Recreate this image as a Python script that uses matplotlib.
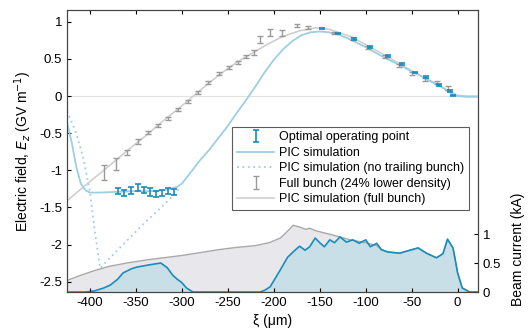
import numpy as np
import matplotlib
matplotlib.use("Agg")
import matplotlib.pyplot as plt

plt.rcParams["font.family"] = ["Liberation Sans", "DejaVu Sans"]
plt.rcParams["axes.unicode_minus"] = False

# PIC simulation (solid light blue)
xi_pic = [-425, -420, -415, -410, -405, -400, -390, -370, -350, -330, -315, -305,
          -300, -290, -280, -270, -260, -250, -240, -230, -220, -210, -200, -190,
          -180, -170, -160, -150, -140, -130, -120, -110, -100, -90, -80, -70,
          -60, -50, -40, -30, -20, -10, -5, 0, 10, 22]
e_pic = [-0.36, -0.62, -0.95, -1.18, -1.27, -1.3, -1.3, -1.29, -1.28, -1.28, -1.26, -1.22,
         -1.18, -1.02, -0.86, -0.72, -0.56, -0.4, -0.22, -0.05, 0.13, 0.32, 0.49, 0.63,
         0.74, 0.82, 0.86, 0.87, 0.86, 0.83, 0.78, 0.72, 0.66, 0.59, 0.52, 0.46,
         0.4, 0.33, 0.27, 0.2, 0.14, 0.06, 0.02, 0.0, -0.01, -0.01]

# PIC simulation, no trailing bunch (dotted)
xi_nt = [-425, -415, -407, -400, -395, -389, -380, -360, -340, -320, -302]
e_nt = [-0.2, -0.5, -0.85, -1.3, -1.8, -2.32, -2.2, -1.95, -1.7, -1.47, -1.24]

# PIC simulation, full bunch (light gray)
xi_full = [-425, -400, -385, -360, -340, -320, -300, -280, -260, -240, -226, -208,
           -191, -172, -154, -140, -130, -114, -98, -79, -64, -50, -35, -22, -11, 0, 10, 22]
e_full = [-1.41, -1.15, -1.0, -0.74, -0.54, -0.33, -0.13, 0.08, 0.28, 0.46, 0.56, 0.69,
          0.8, 0.88, 0.92, 0.9, 0.86, 0.79, 0.68, 0.55, 0.44, 0.34, 0.24, 0.16, 0.08, 0.01, 0.0, 0.0]

# Optimal operating point (blue error bars)
xi_opt = [-370, -363, -355, -348, -341, -335, -328, -322, -315, -309,
          -148, -130, -113, -95, -76, -60, -46, -34, -20, -8, -5]
e_opt = [-1.28, -1.30, -1.27, -1.23, -1.26, -1.29, -1.32, -1.31, -1.28, -1.29,
         0.91, 0.84, 0.77, 0.66, 0.54, 0.43, 0.32, 0.26, 0.15, 0.07, 0.01]
err_opt = [0.04, 0.04, 0.05, 0.05, 0.04, 0.05, 0.04, 0.04, 0.04, 0.04,
           0.01, 0.01, 0.01, 0.01, 0.01, 0.01, 0.01, 0.01, 0.01, 0.01, 0.01]

# Full bunch, 24% lower density (gray error bars)
xi_fb = [-385, -372, -360, -348, -337, -326, -315, -304, -293, -283, -272, -260,
         -249, -239, -230, -222, -215, -204, -191, -175, -163,
         -134, -114, -98, -79, -64, -50, -35, -22, -11]
e_fb = [-1.03, -0.91, -0.76, -0.61, -0.49, -0.39, -0.30, -0.18, -0.07, 0.05, 0.18, 0.30,
        0.38, 0.45, 0.53, 0.59, 0.76, 0.86, 0.85, 0.95, 0.93,
        0.85, 0.78, 0.65, 0.53, 0.41, 0.31, 0.23, 0.18, 0.11]
err_fb = [0.1, 0.08, 0.04, 0.03, 0.02, 0.02, 0.02, 0.02, 0.02, 0.02, 0.02, 0.02,
          0.02, 0.02, 0.02, 0.03, 0.05, 0.05, 0.04, 0.02, 0.02,
          0.02, 0.02, 0.02, 0.02, 0.02, 0.02, 0.02, 0.02, 0.03]

# Beam current, trailing + drive bunch (kA)
xi_cur = [-425, -405, -395, -385, -378, -370, -364, -355, -349, -335, -323, -316, -310,
          -305, -300, -295, -288, -215, -210, -204, -193, -185, -177, -172, -166,
          -161, -155, -150, -145, -139, -134, -128, -121, -114, -107, -100, -95,
          -88, -83, -76, -63, -52, -43, -34, -23, -16, -11, -5, 0, 5, 13, 22]
cur = [0, 0, 0.02, 0.07, 0.12, 0.22, 0.33, 0.40, 0.43, 0.47, 0.50, 0.42, 0.29,
       0.22, 0.16, 0.07, 0, 0, 0.03, 0.09, 0.38, 0.6, 0.72, 0.79, 0.72,
       0.78, 0.93, 0.85, 0.78, 0.9, 0.85, 0.95, 0.86, 0.9, 0.84, 0.9, 0.78,
       0.84, 0.73, 0.69, 0.67, 0.72, 0.76, 0.67, 0.59, 0.66, 0.91, 0.76, 0.33, 0.07, 0, 0]

# Beam current, full bunch (kA)
xi_cur_full = [-425, -410, -395, -380, -360, -340, -320, -300, -280, -260, -240, -220,
               -205, -193, -185, -179, -172, -165, -161, -155, -148, -135, -117, -100,
               -88, -83, -76, -63, -52, -43, -34, -23, -16, -11, -5, 0, 5, 13, 22]
cur_full = [0.2, 0.29, 0.37, 0.44, 0.5, 0.55, 0.59, 0.63, 0.68, 0.73, 0.77, 0.8,
            0.85, 0.93, 1.05, 1.15, 1.12, 1.08, 1.10, 1.06, 1.03, 0.98, 0.9, 0.85,
            0.8, 0.73, 0.69, 0.67, 0.72, 0.76, 0.67, 0.59, 0.66, 0.91, 0.76, 0.33, 0.07, 0, 0]

c_light = "#9dcfe4"
c_dark = "#1a8cbc"
c_gray = "#9a9a9a"
c_lgray = "#cfcfcf"


def main():
    fig = plt.figure(figsize=(5.28, 3.33), dpi=100)
    ax = fig.add_axes([0.127, 0.123, 0.778, 0.847])
    ax2 = ax.twinx()
    ax.set_zorder(ax2.get_zorder() + 1)
    ax.patch.set_visible(False)

    # beam current
    ax2.fill_between(xi_cur_full, 0, cur_full, color="#e8e8ec", lw=0)
    ax2.plot(xi_cur_full, cur_full, color="#a8a8a8", lw=1.0)
    ax2.fill_between(xi_cur, 0, cur, color="#c9dfe8", lw=0)
    ax2.plot(xi_cur, cur, color=c_dark, lw=1.2)
    ax2.set_ylim(0, 4.86)
    ax2.set_yticks([0, 0.5, 1])
    ax2.set_yticklabels(["0", "0.5", "1"])
    ax2.set_ylabel("Beam current (kA)", fontsize=10)
    ax2.yaxis.set_label_coords(1.08, 0.15)
    ax2.tick_params(direction="in", length=3, labelsize=9.5, right=True)

    # electric field
    ax.axhline(0, color="#e2e2e2", lw=0.8, zorder=0)
    ax.plot(xi_full, e_full, color=c_lgray, lw=1.2, label="PIC simulation (full bunch)", zorder=1)
    ax.plot(xi_nt, e_nt, color=c_light, lw=1.3, ls=(0, (1, 2)),
            label="PIC simulation (no trailing bunch)", zorder=2)
    ax.plot(xi_pic, e_pic, color=c_light, lw=1.3, label="PIC simulation", zorder=2)
    ax.errorbar(xi_fb, e_fb, yerr=err_fb, fmt="none", ecolor=c_gray, elinewidth=1.0,
                capsize=2.2, capthick=1.0, label="Full bunch (24% lower density)", zorder=3)
    ax.errorbar(xi_opt, e_opt, yerr=err_opt, fmt="none", ecolor=c_dark, elinewidth=1.2,
                capsize=2.2, capthick=1.2, label="Optimal operating point", zorder=4)

    ax.set_xlim(-425, 22)
    ax.set_ylim(-2.64, 1.16)
    ax.set_xticks([-400, -350, -300, -250, -200, -150, -100, -50, 0])
    ax.set_yticks([1, 0.5, 0, -0.5, -1, -1.5, -2, -2.5])
    ax.set_yticklabels(["1", "0.5", "0", "-0.5", "-1", "-1.5", "-2", "-2.5"])
    ax.tick_params(direction="in", length=3, labelsize=9.5, top=True, right=False)
    ax.set_xlabel("ξ (μm)", fontsize=10)
    ax.set_ylabel("Electric field, $E_z$ (GV m$^{-1}$)", fontsize=10)
    for sp in list(ax.spines.values()) + list(ax2.spines.values()):
        sp.set_color("#444444")

    handles, labels = ax.get_legend_handles_labels()
    order = ["Optimal operating point", "PIC simulation", "PIC simulation (no trailing bunch)",
             "Full bunch (24% lower density)", "PIC simulation (full bunch)"]
    hmap = dict(zip(labels, handles))
    leg = ax.legend([hmap[k] for k in order], order, loc="upper right",
                    bbox_to_anchor=(0.978, 0.585), fontsize=9, frameon=True, fancybox=False,
                    handlelength=3.0, handletextpad=0.4, borderpad=0.35, labelspacing=0.28,
                    borderaxespad=0)
    leg.get_frame().set_edgecolor("#333333")
    leg.get_frame().set_linewidth(0.8)

    fig.savefig("out.png", dpi=100)


if __name__ == "__main__":
    main()
